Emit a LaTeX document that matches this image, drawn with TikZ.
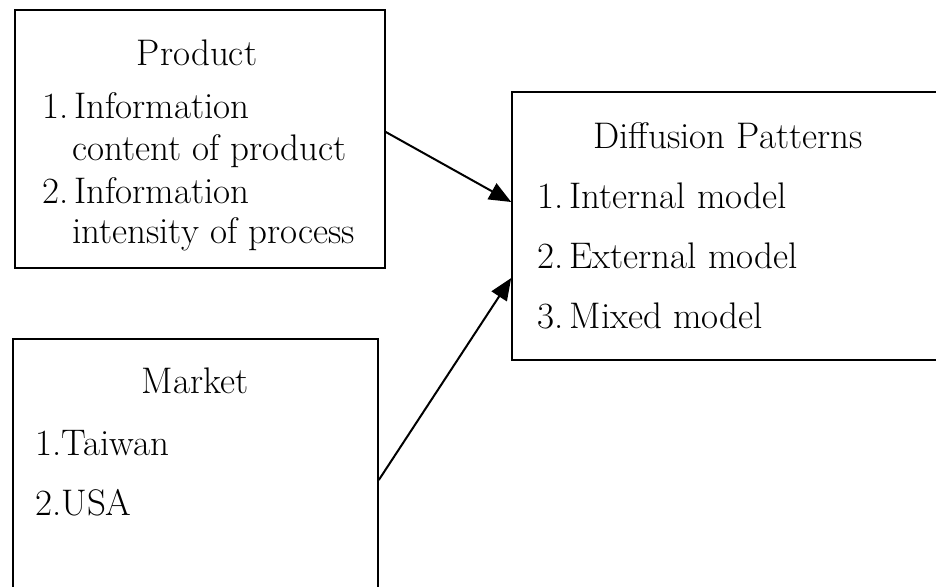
\documentclass[tikz,border=0pt]{standalone}
\usetikzlibrary{arrows.meta}
\begin{document}
\begin{tikzpicture}[x=1pt,y=-1pt,
	box/.style={draw,line width=1.6pt,inner sep=0pt},
	txt/.style={inner sep=0pt,anchor=base west,font=\fontsize{37}{44}\selectfont},
	ttl/.style={txt,anchor=base},
	link/.style={line width=2pt,-{Triangle[length=22pt,width=18pt]}}]
	\useasboundingbox (0,0) rectangle (936,586);
	\clip (0,0) rectangle (936,586);

	\node[box,minimum width=370pt,minimum height=258pt] at (200,139) (prod) {};
	\node[box,minimum width=365pt,minimum height=261pt] at (195.5,469.5) (mark) {};
	\node[box,minimum width=433pt,minimum height=268pt] at (728.5,226) (diff) {};

	% product
	\node[ttl] at (197,65) (prodt) {Product};
	\node[txt] at (42,118) (p1) {1.\,Information};
	\node[txt] at (72,160) (p1b) {content of product};
	\node[txt] at (42,203) (p2) {2.\,Information};
	\node[txt] at (72,243) (p2b) {intensity of process};

	% market
	\node[ttl] at (195,393) (markt) {Market};
	\node[txt] at (35,455) (m1) {1.Taiwan};
	\node[txt] at (35,515) (m2) {2.USA};

	% diffusion patterns
	\node[ttl] at (728,148) (difft) {Diffusion Patterns};
	\node[txt] at (537,208) (d1) {1.\,Internal model};
	\node[txt] at (537,268) (d2) {2.\,External model};
	\node[txt] at (537,328) (d3) {3.\,Mixed model};

	\draw[link] ([yshift=7pt]prod.east) -- ([yshift=24pt]diff.west);
	\draw[link] ([yshift=-10.5pt]mark.east) -- ([yshift=-52pt]diff.west);
\end{tikzpicture}
\end{document}
